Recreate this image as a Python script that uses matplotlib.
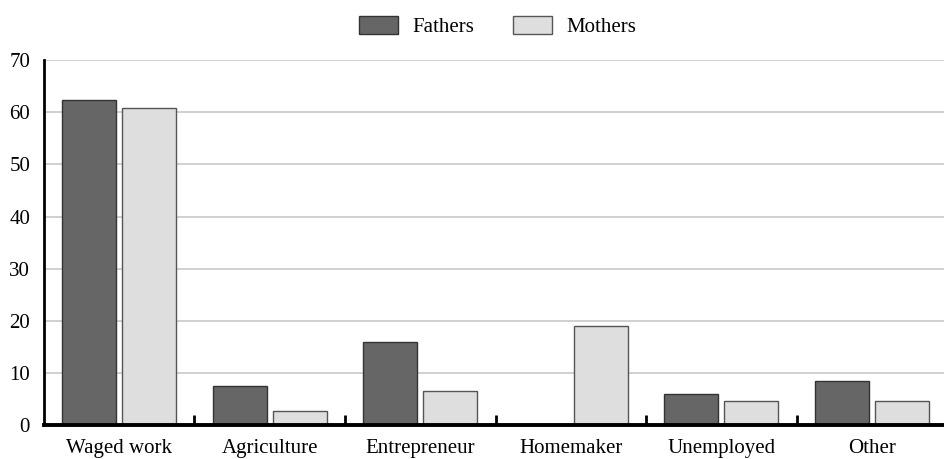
import matplotlib.pyplot as plt
import numpy as np

categories = ['Waged work', 'Agriculture', 'Entrepreneur', 'Homemaker', 'Unemployed', 'Other']
fathers = [62.3, 7.5, 15.9, 0.0, 6.0, 8.4]
mothers = [60.8, 2.7, 6.5, 19.0, 4.6, 4.6]

plt.rcParams['font.family'] = ['Liberation Serif', 'DejaVu Serif']

fig = plt.figure(figsize=(9.44, 4.59), dpi=100)
ax = fig.add_axes([0.0466, 0.074, 0.9534, 0.795])

x = np.arange(len(categories))
w = 0.36
ax.bar(x - 0.2, fathers, w, color='#666666', edgecolor='#333333', linewidth=1, label='Fathers', zorder=3)
ax.bar(x + 0.2, mothers, w, color='#dedede', edgecolor='#555555', linewidth=1, label='Mothers', zorder=3)

ax.set_ylim(0, 70)
ax.set_xlim(-0.5, 5.48)
ax.set_yticks(range(0, 71, 10))
ax.yaxis.grid(True, color='#c8c8c8', linewidth=1.2, zorder=0)
ax.tick_params(axis='y', length=0, pad=10, labelsize=15)

ax.set_xticks(x)
ax.set_xticklabels(categories)
ax.tick_params(axis='x', length=0, pad=10, labelsize=15)
ax.set_xticks(np.arange(0.5, 5, 1), minor=True)
ax.tick_params(axis='x', which='minor', direction='in', length=7, width=2, color='black')

for s in ['top', 'right']:
    ax.spines[s].set_visible(False)
ax.spines['left'].set_linewidth(2)
ax.spines['bottom'].set_linewidth(2.8)
ax.spines['bottom'].set_zorder(4)

fig.legend(loc='upper center', bbox_to_anchor=(0.527, 1.0), ncol=2, frameon=False,
           fontsize=15, handlelength=1.87, handleheight=0.95, columnspacing=1.87,
           handletextpad=0.67, borderaxespad=0.35)

fig.savefig('out.png', dpi=100)
